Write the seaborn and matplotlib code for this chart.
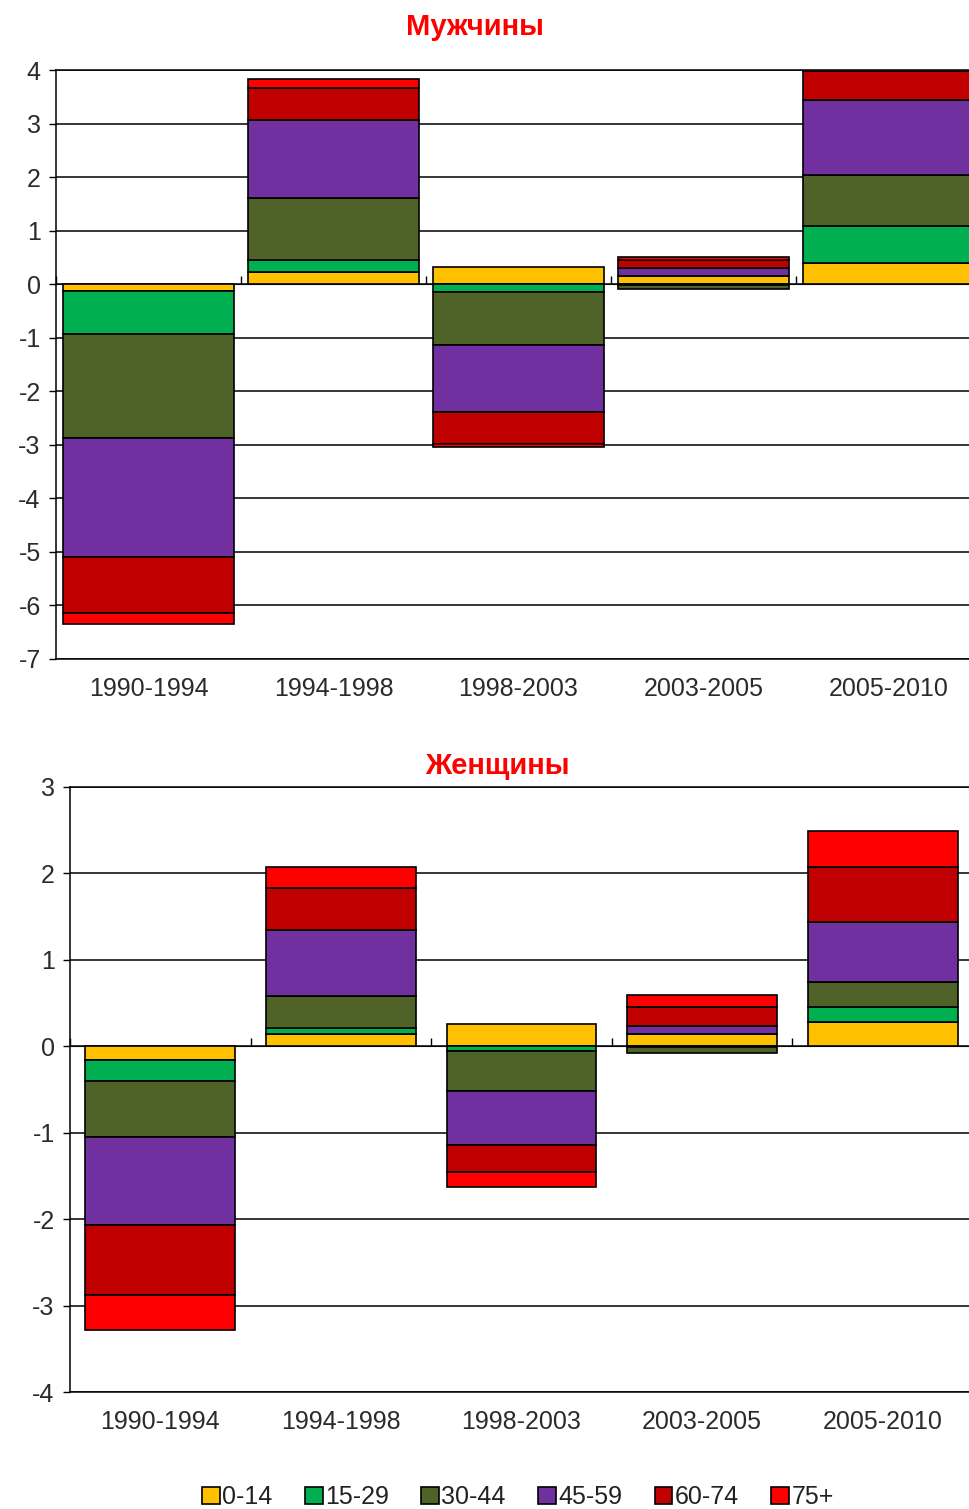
import numpy as np
import pandas as pd
import matplotlib
matplotlib.use("Agg")
import matplotlib.pyplot as plt
from matplotlib.patches import Patch
import seaborn as sns

periods = ["1990-1994", "1994-1998", "1998-2003", "2003-2005", "2005-2010"]
groups = ["0-14", "15-29", "30-44", "45-59", "60-74", "75+"]
colors = ["#FFC000", "#00B050", "#4F6228", "#7030A0", "#C00000", "#FF0000"]

# men, one list per age group (values per period)
men_0_14 = [-0.13, 0.23, 0.32, 0.16, 0.39]
men_15_29 = [-0.80, 0.22, -0.15, -0.01, 0.69]
men_30_44 = [-1.94, 1.16, -0.98, -0.08, 0.96]
men_45_59 = [-2.22, 1.45, -1.26, 0.14, 1.40]
men_60_74 = [-1.06, 0.60, -0.60, 0.15, 0.54]
men_75 = [-0.19, 0.17, -0.05, 0.05, 0.30]

# women
women_0_14 = [-0.16, 0.14, 0.26, 0.14, 0.28]
women_15_29 = [-0.24, 0.07, -0.06, -0.01, 0.18]
women_30_44 = [-0.65, 0.37, -0.46, -0.07, 0.28]
women_45_59 = [-1.02, 0.76, -0.62, 0.10, 0.70]
women_60_74 = [-0.81, 0.49, -0.32, 0.21, 0.64]
women_75 = [-0.40, 0.25, -0.17, 0.14, 0.41]

men = [men_0_14, men_15_29, men_30_44, men_45_59, men_60_74, men_75]
women = [women_0_14, women_15_29, women_30_44, women_45_59, women_60_74, women_75]

sns.set_style("white")
plt.rcParams['font.family'] = ['Liberation Sans', 'DejaVu Sans']
plt.rcParams['axes.unicode_minus'] = False

W, H = 969, 1509
fig = plt.figure(figsize=(W / 100, H / 100), dpi=100)


def draw(ax, series, ylo, yhi, width):
    pos = np.zeros(len(periods))
    neg = np.zeros(len(periods))
    for vals, col in zip(series, colors):
        vals = np.array(vals)
        bottom = np.where(vals >= 0, pos, neg)
        df = pd.DataFrame({"period": periods, "value": vals})
        sns.barplot(data=df, x="period", y="value", bottom=bottom, color=col,
                    saturation=1, width=width, edgecolor="black", linewidth=1.2,
                    errorbar=None, ax=ax, zorder=3)
        pos = pos + np.where(vals >= 0, vals, 0)
        neg = neg + np.where(vals < 0, vals, 0)
    ax.set_ylim(ylo, yhi)
    ax.set_xlim(-0.5, len(periods) - 0.5)
    ax.set_yticks(range(ylo, yhi + 1))
    ax.yaxis.grid(True, color="black", linewidth=1.1, zorder=0)
    ax.set_axisbelow(True)
    ax.set_xlabel("")
    ax.set_ylabel("")
    ax.spines["right"].set_visible(False)
    for s in ["left", "bottom", "top"]:
        ax.spines[s].set_color("black")
        ax.spines[s].set_linewidth(1.1)
    ax.tick_params(axis="y", direction="out", length=5, width=1, color="black",
                   labelsize=18, labelcolor="#2b2b2b", pad=6, left=True)
    ax.tick_params(axis="x", length=0, labelsize=18, labelcolor="#2b2b2b", pad=13)
    # category axis crossing at zero
    sec = ax.secondary_xaxis(-ylo / (yhi - ylo))
    sec.set_xticks(np.arange(-0.5, len(periods), 1.0))
    sec.set_xticklabels([])
    sec.tick_params(direction="out", length=6, width=1, color="black")
    sec.spines["bottom"].set_color("black")
    sec.spines["bottom"].set_linewidth(1.2)


ax1 = fig.add_axes([56 / W, 1 - 659 / H, 925 / W, (659 - 70) / H])
draw(ax1, men, -7, 4, 0.92)
fig.text(475 / W, 1 - 27 / H, "Мужчины", color="red", fontsize=21,
         fontweight="bold", ha="center", va="center")

ax2 = fig.add_axes([70 / W, 1 - 1392 / H, 903 / W, (1392 - 787) / H])
draw(ax2, women, -4, 3, 0.83)
fig.text(497 / W, 1 - 766 / H, "Женщины", color="red", fontsize=21,
         fontweight="bold", ha="center", va="center")

handles = [Patch(facecolor=c, edgecolor="black", linewidth=1.2) for c in colors]
fig.legend(handles, groups, loc="center", bbox_to_anchor=(518 / W, 1 - 1497 / H),
           ncol=6, frameon=False, fontsize=18, handlelength=0.7, handleheight=0.7,
           handletextpad=0.1, columnspacing=1.3, labelcolor="#222222")

fig.savefig("out.png", dpi=100)
